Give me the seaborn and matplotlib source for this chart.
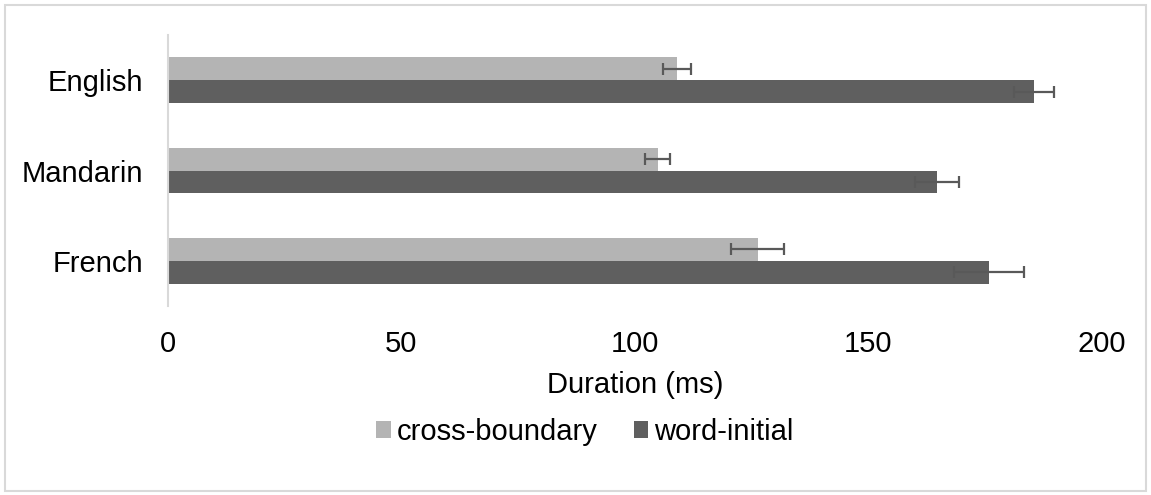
import matplotlib
matplotlib.use("Agg")
import matplotlib.pyplot as plt
from matplotlib.patches import Rectangle
import seaborn as sns
import pandas as pd
import numpy as np

# Mean durations (ms) and error margins per language
languages = ["English", "Mandarin", "French"]
series = ["cross-boundary", "word-initial"]
cross_boundary = [109.0, 104.9, 126.3]
word_initial = [185.6, 164.7, 175.8]
cross_boundary_err = [3.0, 2.7, 5.7]
word_initial_err = [4.3, 4.7, 7.5]
x_ticks = [0, 50, 100, 150, 200]

df = pd.DataFrame({
    "language": languages * 2,
    "series": [series[0]] * 3 + [series[1]] * 3,
    "duration": cross_boundary + word_initial,
})
errors = {series[0]: cross_boundary_err, series[1]: word_initial_err}

sns.set_theme(style="white")
plt.rcParams["font.family"] = ["Liberation Sans", "DejaVu Sans"]
plt.rcParams["text.color"] = "black"
plt.rcParams["xtick.color"] = "black"
plt.rcParams["ytick.color"] = "black"
plt.rcParams["axes.labelcolor"] = "black"
FS = 21

fig = plt.figure(figsize=(11.51, 4.95), dpi=100)
ax = fig.add_axes([0.146, 0.382, 0.811, 0.547])

palette = {series[0]: "#b4b4b4", series[1]: "#5f5f5f"}
sns.barplot(data=df, x="duration", y="language", hue="series", order=languages,
            hue_order=series, palette=palette, orient="h", width=0.508,
            errorbar=None, saturation=1, linewidth=0, ax=ax)

# Error bars centred on each bar end
for container, name in zip(ax.containers, series):
    ys = [p.get_y() + p.get_height() / 2 for p in container]
    xs = [p.get_width() for p in container]
    ax.errorbar(xs, ys, xerr=errors[name], fmt="none", ecolor="#595959",
                elinewidth=1.6, capsize=4.5, capthick=1.6, zorder=5)

ax.set_xlim(0, 200)
ax.set_ylim(2.5, -0.5)
ax.set_xticks(x_ticks)
ax.set_xticklabels([str(t) for t in x_ticks], fontsize=FS)
ax.tick_params(axis="x", length=0, pad=17)
ax.tick_params(axis="y", length=0, pad=18, labelsize=FS)
ax.set_ylabel("")
ax.set_xlabel("Duration (ms)", fontsize=FS, labelpad=10)

for side in ["top", "right", "bottom"]:
    ax.spines[side].set_visible(False)
ax.spines["left"].set_color("#d9d9d9")
ax.spines["left"].set_linewidth(1.5)

handles, labels = ax.get_legend_handles_labels()
ax.get_legend().remove()
fig.legend(handles, labels, loc="center", bbox_to_anchor=(0.508, 0.128), ncol=2,
           frameon=False, fontsize=FS, handlelength=0.5, handleheight=0.5,
           handletextpad=0.2, columnspacing=1.25)

# Light grey frame around the whole chart
fig.patches.append(Rectangle((0.004, 0.008), 0.992, 0.982, transform=fig.transFigure,
                             fill=False, edgecolor="#d9d9d9", linewidth=1.5))

fig.savefig("out.png", dpi=100)
